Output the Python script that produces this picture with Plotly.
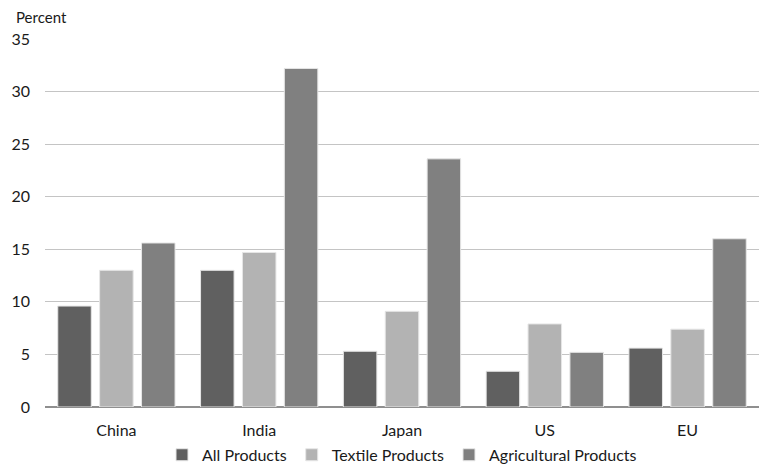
import plotly.graph_objects as go

categories = ["China", "India", "Japan", "US", "EU"]
all_products = [9.6, 13.0, 5.3, 3.4, 5.6]
textile_products = [13.0, 14.7, 9.1, 7.9, 7.4]
agricultural_products = [15.6, 32.2, 23.6, 5.2, 16.0]
y_ticks = [0, 5, 10, 15, 20, 25, 30, 35]

FONT = "Lato, 'Open Sans', sans-serif"

fig = go.Figure()
series = [
    ("All Products", all_products, "#606060"),
    ("Textile Products", textile_products, "#b3b3b3"),
    ("Agricultural Products", agricultural_products, "#808080"),
]
for name, vals, color in series:
    fig.add_trace(go.Bar(
        x=categories, y=vals, name=name,
        marker=dict(color=color, line=dict(color="#e6e6e6", width=1)),
    ))

fig.update_layout(
    width=761, height=468,
    margin=dict(l=45, r=2, t=39, b=61, autoexpand=False),
    paper_bgcolor="white", plot_bgcolor="white",
    barmode="group", bargap=0.12, bargroupgap=0.2,
    font=dict(family=FONT, size=16, color="#1a1a1a"),
    showlegend=True,
    legend=dict(orientation="h", x=0.5, xanchor="center", y=-0.13, yanchor="middle",
                font=dict(size=16), itemwidth=30, traceorder="normal",
                tracegroupgap=0),
    xaxis=dict(showgrid=False, showline=False, ticks="", ticklabelstandoff=12,
               tickfont=dict(size=16)),
    yaxis=dict(range=[0, 35], tickvals=y_ticks, showgrid=True, gridcolor="#c4c4c4",
               gridwidth=1, zeroline=True, zerolinecolor="#8f8f8f", zerolinewidth=1.5,
               ticks="", ticklabelstandoff=14, tickfont=dict(size=16)),
    annotations=[dict(text="Percent", xref="paper", yref="paper", x=-0.043, y=1.06,
                      xanchor="left", yanchor="middle", showarrow=False,
                      font=dict(size=15))],
)

fig.write_html("out.html")
